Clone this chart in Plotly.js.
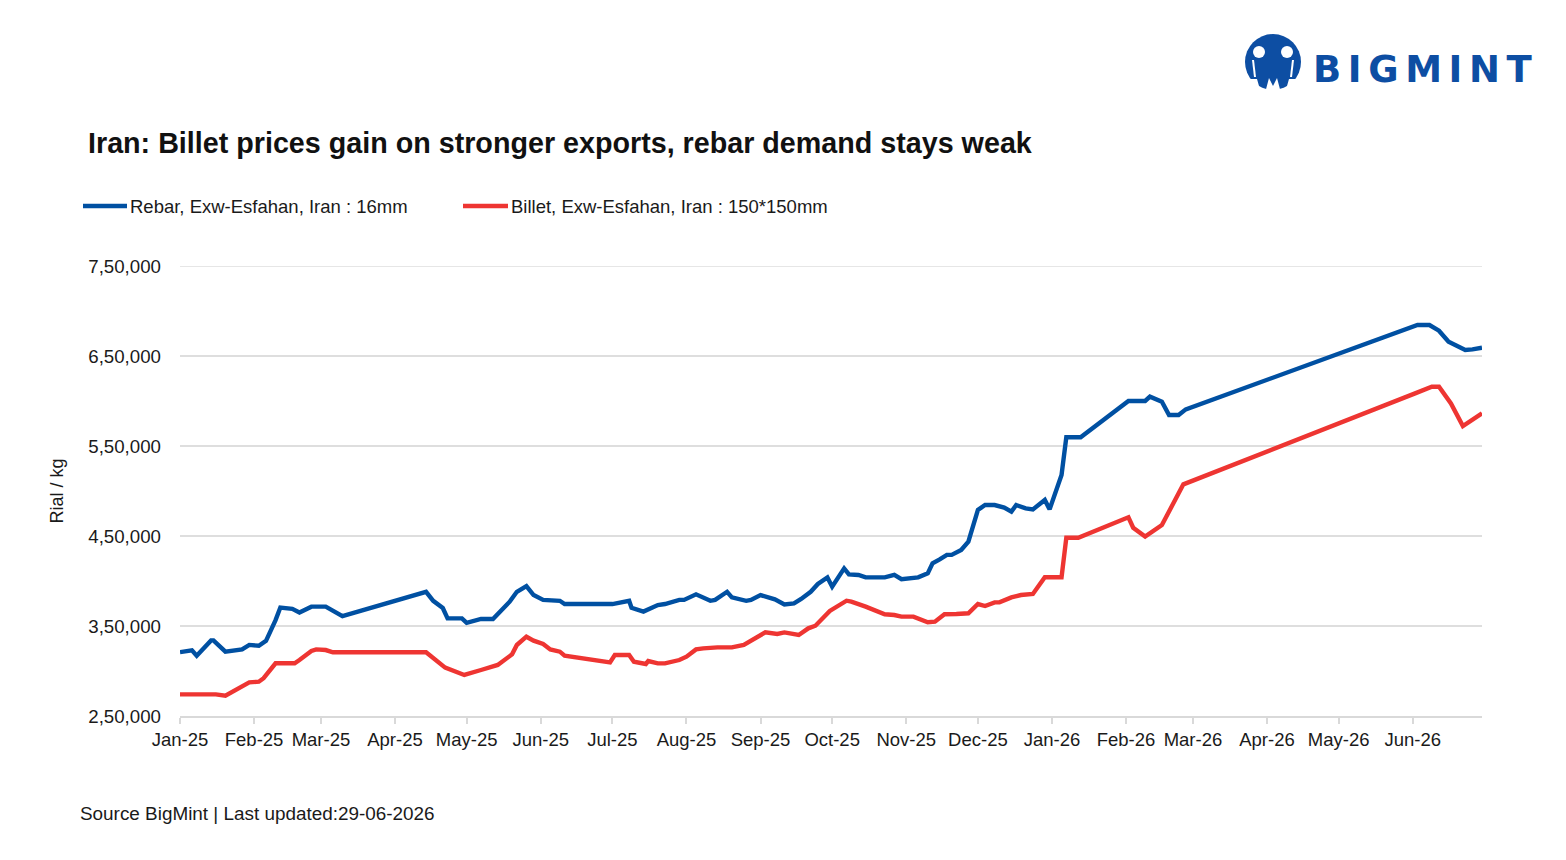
<!DOCTYPE html>
<html>
<head>
<meta charset="utf-8">
<script src="https://cdn.plot.ly/plotly-3.0.1.min.js"></script>
<style>
  html, body { margin: 0; padding: 0; background: #ffffff; }
  #wrap { position: relative; width: 1566px; height: 860px; }
  #chart { width: 1566px; height: 860px; }
  #logo-mark { position: absolute; left: 1244px; top: 33px; }
  #logo-word { position: absolute; left: 1313px; top: 51px; line-height: 1; font-family: "DejaVu Sans", sans-serif; font-weight: 700; font-size: 37px; color: #0d4ea3; letter-spacing: 6.6px; }
</style>
</head>
<body>
<div id="wrap">
  <div id="chart"></div>
  <svg id="logo-mark" width="58" height="60" viewBox="0 0 58 60">
    <circle cx="29" cy="29" r="28" fill="#0d4ea3"/>
    <circle cx="15" cy="19" r="6" fill="#ffffff"/>
    <circle cx="43" cy="19" r="6" fill="#ffffff"/>
    <path d="M8,27 L10,27 L12,44 L10,44 Z" fill="#ffffff"/>
    <path d="M50,27 L48,27 L46,44 L48,44 Z" fill="#ffffff"/>
    <path d="M0,46 L13,46 L17,60 L0,60 Z" fill="#ffffff"/>
    <path d="M58,46 L45,46 L41,60 L58,60 Z" fill="#ffffff"/>
    <path d="M21,60 L25,45 L29,53 L33,45 L37,60 Z" fill="#ffffff"/>
  </svg>
  <div id="logo-word">BIGMINT</div>
</div>
<script>
// Rebar, Exw-Esfahan, Iran : 16mm (Rial / kg)
const rebarDates = [
  '2025-01-01','2025-01-06','2025-01-08','2025-01-14','2025-01-15','2025-01-20','2025-01-27','2025-01-30',
  '2025-02-03','2025-02-06','2025-02-10','2025-02-12','2025-02-17','2025-02-20','2025-02-25','2025-03-03',
  '2025-03-10','2025-04-14','2025-04-17','2025-04-21','2025-04-23','2025-04-29','2025-05-01','2025-05-07',
  '2025-05-12','2025-05-19','2025-05-22','2025-05-26','2025-05-29','2025-06-02','2025-06-09','2025-06-11',
  '2025-07-01','2025-07-08','2025-07-09','2025-07-14','2025-07-20','2025-07-23','2025-07-29','2025-07-31',
  '2025-08-05','2025-08-11','2025-08-13','2025-08-18','2025-08-20','2025-08-26','2025-08-28','2025-09-01',
  '2025-09-07','2025-09-11','2025-09-15','2025-09-18','2025-09-22','2025-09-25','2025-09-29','2025-10-01',
  '2025-10-06','2025-10-08','2025-10-12','2025-10-15','2025-10-23','2025-10-27','2025-10-30','2025-11-06',
  '2025-11-10','2025-11-12','2025-11-15','2025-11-18','2025-11-20','2025-11-24','2025-11-27','2025-12-01',
  '2025-12-04','2025-12-08','2025-12-12','2025-12-15','2025-12-17','2025-12-21','2025-12-24','2025-12-29',
  '2025-12-31','2026-01-05','2026-01-07','2026-01-13','2026-02-02','2026-02-09','2026-02-11','2026-02-16',
  '2026-02-19','2026-02-23','2026-02-26','2026-06-03','2026-06-08','2026-06-12','2026-06-16','2026-06-23',
  '2026-06-26','2026-06-30'
];
const rebarValues = [
  321000,323000,317000,334000,334000,321500,324000,329000,
  328000,333500,356500,370500,369000,365000,371500,371500,
  361000,388000,378000,370000,358500,358500,353500,357800,
  357800,377000,388000,394400,384400,379000,378000,374400,
  374400,378000,370300,366000,373300,374400,379000,379000,
  385200,378000,379000,388000,381800,378000,379000,384400,
  379600,374000,375200,380000,388000,396700,404000,393700,
  414000,407400,406700,404000,404000,406700,402000,404000,
  408500,419600,424000,429000,429000,434400,443700,479000,
  484400,484400,481500,477000,484400,480700,479600,490000,
  479600,517800,559700,559700,600000,600000,604800,599300,
  584400,584400,590700,684400,684400,678100,665900,656700,
  657400,659200
];

// Billet, Exw-Esfahan, Iran : 150*150mm (Rial / kg)
const billetDates = [
  '2025-01-01','2025-01-16','2025-01-20','2025-01-27','2025-01-30','2025-02-03','2025-02-05','2025-02-10',
  '2025-02-18','2025-02-20','2025-02-25','2025-02-27','2025-03-03','2025-03-06','2025-04-14','2025-04-22',
  '2025-04-30','2025-05-07','2025-05-14','2025-05-20','2025-05-22','2025-05-26','2025-05-29','2025-06-02',
  '2025-06-05','2025-06-09','2025-06-11','2025-06-30','2025-07-02','2025-07-08','2025-07-10','2025-07-15',
  '2025-07-16','2025-07-20','2025-07-23','2025-07-29','2025-08-01','2025-08-05','2025-08-08','2025-08-14',
  '2025-08-20','2025-08-25','2025-08-29','2025-09-03','2025-09-08','2025-09-11','2025-09-17','2025-09-21',
  '2025-09-24','2025-09-30','2025-10-07','2025-10-09','2025-10-15','2025-10-23','2025-10-27','2025-10-30',
  '2025-11-04','2025-11-07','2025-11-10','2025-11-13','2025-11-17','2025-11-22','2025-11-27','2025-12-01',
  '2025-12-04','2025-12-08','2025-12-10','2025-12-15','2025-12-19','2025-12-24','2025-12-29','2026-01-05',
  '2026-01-07','2026-01-12','2026-02-02','2026-02-04','2026-02-09','2026-02-16','2026-02-25','2026-06-02',
  '2026-06-09','2026-06-12','2026-06-17','2026-06-22','2026-06-30'
];
const billetValues = [
  274000,274000,272600,282000,287400,288100,292000,308600,
  308600,312200,322200,324000,323300,320800,320800,303700,
  295600,301100,306700,318500,328900,338100,333700,330000,
  324000,321500,317000,309600,317800,317800,310300,307800,
  311100,308500,308500,312200,315900,324000,325200,326300,
  326300,329000,335600,342900,341100,342900,340000,347400,
  350300,366700,378100,377000,371500,363000,362200,360400,
  360400,357400,354100,354800,363000,363300,364100,374400,
  372200,376300,376300,381800,384400,385600,404100,404100,
  448100,448100,470800,459200,449300,462200,507400,608500,
  615900,615900,597300,572200,586300
];

// Axis labels
const yTickValues = [250000, 350000, 450000, 550000, 650000, 750000];
const yTickLabels = ['2,50,000', '3,50,000', '4,50,000', '5,50,000', '6,50,000', '7,50,000'];

const seriesNames = ['Rebar, Exw-Esfahan, Iran : 16mm', 'Billet, Exw-Esfahan, Iran : 150*150mm'];
const seriesColors = ['#0050a2', '#ee3532'];

const chartTitle = 'Iran: Billet prices gain on stronger exports, rebar demand stays weak';
const sourceNote = 'Source BigMint | Last updated:29-06-2026';

const textFont = 'Liberation Sans, Arial, sans-serif';
const gridColor = '#dedede';

const traces = [
  { x: rebarDates, y: rebarValues, name: seriesNames[0], type: 'scatter', mode: 'lines',
    line: { color: seriesColors[0], width: 4.4, shape: 'linear' } },
  { x: billetDates, y: billetValues, name: seriesNames[1], type: 'scatter', mode: 'lines',
    line: { color: seriesColors[1], width: 4.4, shape: 'linear' } }
];

// plot area: 180..1482 px horizontally, 266..716 px vertically
const L = 180, R = 84, T = 266, B = 144, W = 1566, H = 860;
const pw = W - L - R, ph = H - T - B;
const px = v => (v - L) / pw;
const py = v => (H - B - v) / ph;

const yMin = yTickValues[0], yMax = yTickValues[yTickValues.length - 1];

const layout = {
  width: W, height: H,
  paper_bgcolor: '#ffffff', plot_bgcolor: '#ffffff',
  margin: { l: L, r: R, t: T, b: B, autoexpand: false },
  showlegend: false,
  hovermode: false,
  title: {
    text: '<b>' + chartTitle + '</b>',
    xref: 'container', yref: 'container',
    x: 88 / W, xanchor: 'left',
    y: 1 - 143 / H, yanchor: 'middle',
    font: { family: textFont, size: 28.7, color: '#111111' }
  },
  xaxis: {
    type: 'date',
    range: ['2025-01-01', '2026-06-30'],
    tick0: '2025-01-01', dtick: 'M1', tickformat: '%b-%y',
    showgrid: false, zeroline: false,
    showline: true, linecolor: '#d9d9d9', linewidth: 2,
    ticks: 'outside', ticklen: 6, tickwidth: 2, tickcolor: '#d9d9d9',
    ticklabelstandoff: 0,
    tickfont: { family: textFont, size: 18.5, color: '#1a1a1a' },
    fixedrange: true
  },
  yaxis: {
    range: [yMin, yMax],
    tickvals: yTickValues, ticktext: yTickLabels,
    showgrid: true, gridcolor: gridColor, gridwidth: 1.6,
    zeroline: false, showline: false, ticks: '',
    ticklabelstandoff: 18,
    tickfont: { family: textFont, size: 18.7, color: '#1a1a1a' },
    title: { text: 'Rial / kg', standoff: 19, font: { family: textFont, size: 18, color: '#1a1a1a' } },
    fixedrange: true
  },
  shapes: [
    // top gridline sits on the plot edge, so it is drawn explicitly
    { type: 'line', xref: 'paper', yref: 'y', x0: 0, x1: 1, y0: yMax, y1: yMax, layer: 'below',
      line: { color: gridColor, width: 1.6 } },
    { type: 'line', xref: 'paper', yref: 'paper', x0: px(83), x1: px(127), y0: py(206), y1: py(206),
      line: { color: seriesColors[0], width: 4.5 } },
    { type: 'line', xref: 'paper', yref: 'paper', x0: px(463), x1: px(508), y0: py(206), y1: py(206),
      line: { color: seriesColors[1], width: 4.5 } }
  ],
  annotations: [
    { xref: 'paper', yref: 'paper', x: px(128), y: py(206), xanchor: 'left', yanchor: 'middle',
      text: seriesNames[0], showarrow: false, font: { family: textFont, size: 18.5, color: '#1a1a1a' } },
    { xref: 'paper', yref: 'paper', x: px(509), y: py(206), xanchor: 'left', yanchor: 'middle',
      text: seriesNames[1], showarrow: false, font: { family: textFont, size: 18.5, color: '#1a1a1a' } },
    { xref: 'paper', yref: 'paper', x: px(78), y: py(813), xanchor: 'left', yanchor: 'middle',
      text: sourceNote, showarrow: false, font: { family: textFont, size: 18.9, color: '#1a1a1a' } }
  ]
};

Plotly.newPlot('chart', traces, layout, { displayModeBar: false, staticPlot: true });
</script>
</body>
</html>
